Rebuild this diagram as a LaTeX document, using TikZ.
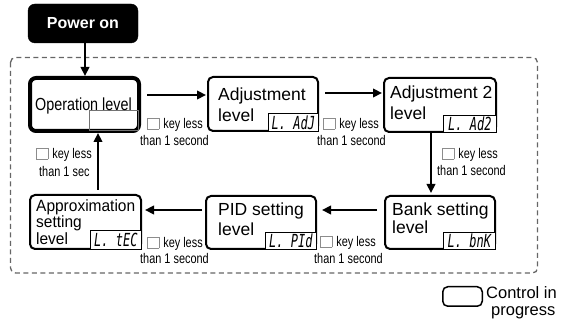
\documentclass[tikz,border=0pt]{standalone}
\usepackage{fontspec}
\usepackage{graphicx}
\setmainfont{Liberation Sans}
\newfontfamily\segfont{DejaVu Sans Mono}
\usetikzlibrary{arrows.meta,calc}
\newcommand{\keysq}{{\color{black!45}\setlength{\fboxsep}{0pt}\setlength{\fboxrule}{0.6pt}\fbox{\rule{0pt}{10.5pt}\hspace{11pt}}}}
\newcommand{\segtxt}[1]{\scalebox{1}[1.5]{\segfont\itshape #1}}
\newcommand{\hs}[2]{\scalebox{#1}[1]{#2}}
\tikzset{
  lvl/.style={draw=black, line width=2pt, rounded corners=5pt, fill=white, inner sep=0pt},
  disp/.style={draw=black, line width=1.2pt, fill=white, inner sep=0pt, anchor=south east,
    font=\fontsize{12}{12}\selectfont},
  arr/.style={line width=2.2pt, -{Triangle[length=9pt,width=8.5pt]}},
  lbl/.style={font=\fontsize{14}{16}\selectfont, inner sep=0pt, anchor=base west},
  bigt/.style={font=\fontsize{17.5}{20}\selectfont, inner sep=0pt, anchor=base west},
  midt/.style={font=\fontsize{16.3}{18}\selectfont, inner sep=0pt, anchor=base west},
  frame/.style={draw=black!60, line width=1.3pt, dash pattern=on 5pt off 3.5pt, rounded corners=5pt},
}
\begin{document}
\begin{tikzpicture}[x=1pt,y=-1pt]
\useasboundingbox (0,0) rectangle (563,328);

% dashed frame
\draw[frame] (10.5,57.5) rectangle (537.5,273);

% power on
\node[draw=black, fill=black, rounded corners=7pt, minimum width=110pt, minimum height=39pt,
  inner sep=0pt, text=white, font=\bfseries\fontsize{16}{19}\selectfont] (power) at (83,23.5) {Power on};

% level boxes
\node[lvl, line width=4pt, rounded corners=6pt, minimum width=109pt, minimum height=53pt] (op) at (84.5,104.5) {};
\node[lvl, minimum width=110pt, minimum height=54pt] (adj) at (263,104) {};
\node[lvl, minimum width=112pt, minimum height=54pt] (adj2) at (440,105) {};
\node[lvl, minimum width=110pt, minimum height=53pt] (bank) at (440,222.5) {};
\node[lvl, minimum width=110pt, minimum height=53pt] (pid) at (261,222.5) {};
\node[lvl, minimum width=111pt, minimum height=54pt] (approx) at (85.5,222) {};

% displays
\node[draw=black!55, line width=0.7pt, inner sep=0pt, anchor=south east, minimum width=49pt, minimum height=20pt] (opd) at ([xshift=-2pt,yshift=2pt]op.south east) {};
\node[disp, minimum width=50pt, minimum height=18pt] (adjd) at (adj.south east) {\segtxt{L. AdJ}};
\node[disp, minimum width=53pt, minimum height=17pt] (adj2d) at (adj2.south east) {\segtxt{L. Ad2}};
\node[disp, minimum width=52pt, minimum height=17pt] (bankd) at (bank.south east) {\segtxt{L. bnK}};
\node[disp, minimum width=51pt, minimum height=17pt] (pidd) at (pid.south east) {\segtxt{L. PId}};
\node[disp, minimum width=51pt, minimum height=19pt] (approxd) at (approx.south east) {\segtxt{L. tEC}};

% box texts
\node[font=\fontsize{17.5}{20}\selectfont, inner sep=0pt, anchor=base west] (opt) at (35,111) {\hs{0.82}{Operation level}};
\node[bigt] (adjt1) at (218,101) {Adjustment};
\node[bigt] (adjt2) at (218,122) {level};
\node[bigt] (adj2t1) at (390,99) {Adjustment 2};
\node[bigt] (adj2t2) at (390,120) {level};
\node[bigt] (bankt1) at (392,216) {Bank setting};
\node[bigt] (bankt2) at (392,234) {level};
\node[bigt] (pidt1) at (218,216) {PID setting};
\node[bigt] (pidt2) at (218,236) {level};
\node[midt] (apt1) at (36,212) {\hs{0.95}{Approximation}};
\node[midt] (apt2) at (36,228) {\hs{0.95}{setting}};
\node[midt] (apt3) at (36,245) {\hs{0.95}{level}};

% connectors
\coordinate (c0) at (85,0);
\draw[arr] (power.south -| c0) -- (c0 |- op.north);
\coordinate (c1) at (147,95);
\draw[arr, shorten >=1pt] (c1) -- (c1 -| adj.west);
\coordinate (c2) at (325,93);
\draw[arr, shorten >=1pt] (c2) -- (c2 -| adj2.west);
\coordinate (c3) at (431,0);
\draw[arr, shorten >=2pt] (adj2.south -| c3) -- (c3 |- bank.north);
\coordinate (c4) at (0,210);
\draw[arr, shorten <=7pt, shorten >=5pt] (bank.west |- c4) -- (pid.east |- c4);
\draw[arr, shorten <=3pt, shorten >=3pt] (pid.west |- c4) -- (approx.east |- c4);
\coordinate (c6) at (98,190);
\draw[arr] (c6) -- (c6 |- op.south);

% key labels
\node[lbl] (k1a) at (147,129) {\keysq\ \hs{0.78}{key less}};
\node[lbl] (k1b) at (140,146) {\hs{0.78}{than 1 second}};
\node[lbl] (k2a) at (323,129) {\keysq\ \hs{0.78}{key less}};
\node[lbl] (k2b) at (317,146) {\hs{0.78}{than 1 second}};
\node[lbl] (k3a) at (442,159) {\keysq\ \hs{0.78}{key less}};
\node[lbl] (k3b) at (437,176) {\hs{0.78}{than 1 second}};
\node[lbl] (k4a) at (320,247) {\keysq\ \hs{0.78}{key less}};
\node[lbl] (k4b) at (314,264) {\hs{0.78}{than 1 second}};
\node[lbl] (k5a) at (147,248) {\keysq\ \hs{0.78}{key less}};
\node[lbl] (k5b) at (140,264) {\hs{0.78}{than 1 second}};
\node[lbl] (k6a) at (36,159) {\keysq\ \hs{0.78}{key less}};
\node[lbl] (k6b) at (39,177) {\hs{0.78}{than 1 sec}};

% legend
\node[draw=black, line width=1.5pt, rounded corners=5pt, minimum width=39.5pt, minimum height=19.5pt, inner sep=0pt] (legend) at (462.5,296.5) {};
\node[font=\fontsize{16.5}{19}\selectfont, inner sep=0pt, anchor=base west] (lg1) at (486,299) {Control in};
\node[font=\fontsize{16.5}{19}\selectfont, inner sep=0pt, anchor=base west] (lg2) at (491,316) {progress};
\end{tikzpicture}
\end{document}
